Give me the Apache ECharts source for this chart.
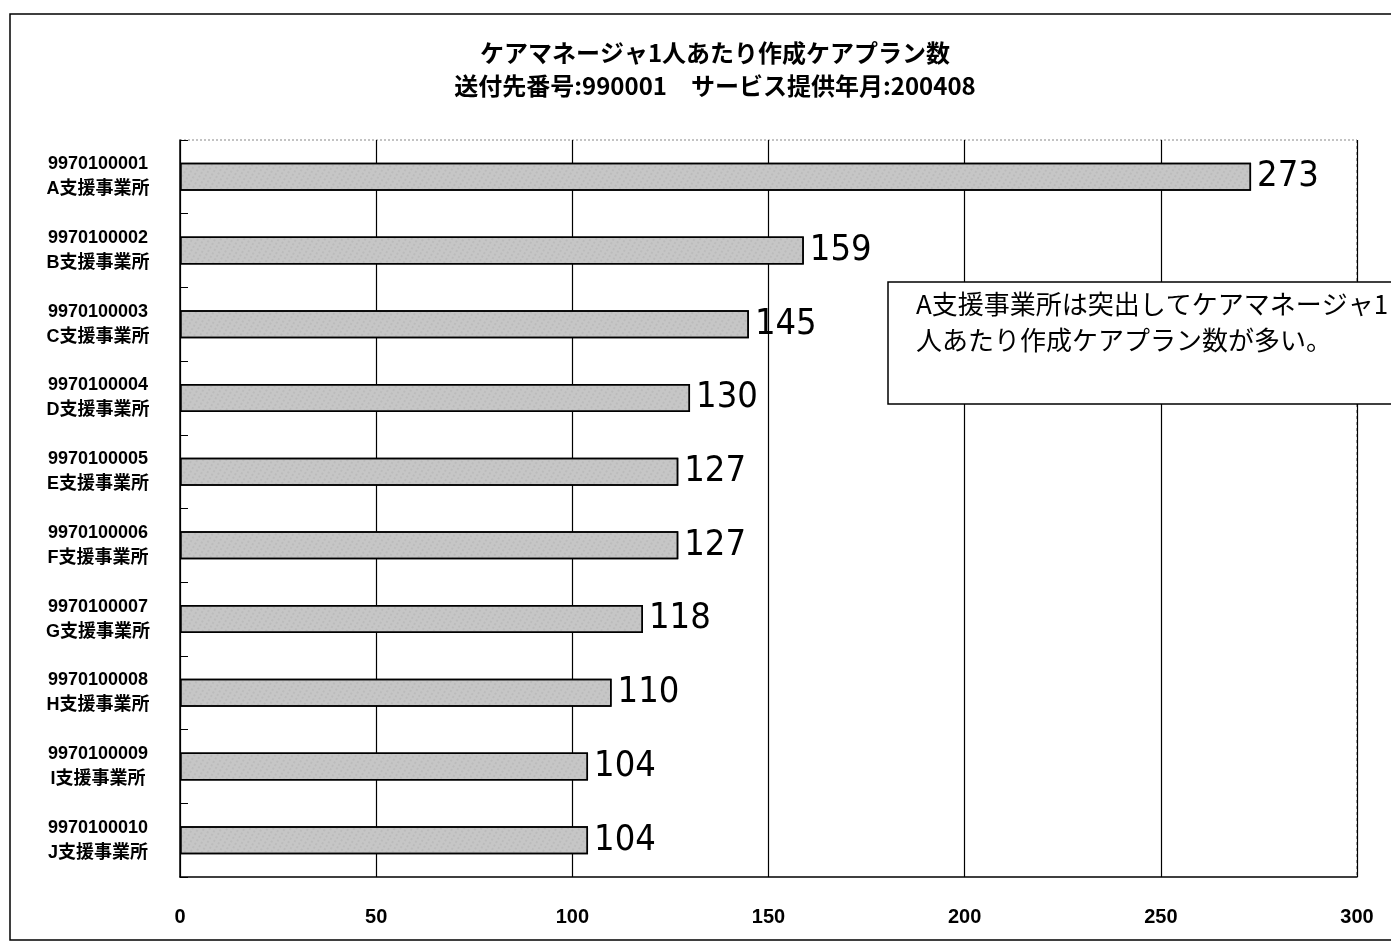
<!DOCTYPE html>
<html><head><meta charset="utf-8">
<script src="https://cdn.jsdelivr.net/npm/echarts@6/dist/echarts.min.js"></script>
<style>html,body{margin:0;padding:0;background:#fff}#c{width:1391px;height:948px}</style>
</head><body><div id="c"></div>
<script>
const codes = ['9970100001','9970100002','9970100003','9970100004','9970100005','9970100006','9970100007','9970100008','9970100009','9970100010'];
const names = ['A支援事業所','B支援事業所','C支援事業所','D支援事業所','E支援事業所','F支援事業所','G支援事業所','H支援事業所','I支援事業所','J支援事業所'];
const values = [273,159,145,130,127,127,118,110,104,104];
const xTicks = [0,50,100,150,200,250,300];
const titleText = 'ケアマネージャ1人あたり作成ケアプラン数';
const subText = '送付先番号:990001　サービス提供年月:200408';
const noteLines = ['A支援事業所は突出してケアマネージャ1','人あたり作成ケアプラン数が多い。'];

const categories = codes.map((c,i)=>c+'\n'+names[i]);
const chart = echarts.init(document.getElementById('c'));
chart.setOption({
  backgroundColor:'#fff',
  animation:false,
  title:{text:titleText, subtext:subText, left:710, textAlign:'center', top:36, itemGap:9,
    textStyle:{fontFamily:'Noto Sans CJK JP', fontSize:24, fontWeight:'bold', color:'#000'},
    subtextStyle:{fontFamily:'Noto Sans CJK JP', fontSize:24, fontWeight:'bold', color:'#000'}},
  grid:{left:180, right:34, top:140, bottom:71},
  xAxis:{type:'value', min:0, max:300, interval:50,
    axisLine:{show:true, lineStyle:{color:'#000', width:1.5}},
    axisTick:{show:false},
    axisLabel:{margin:30, fontFamily:'Liberation Sans', fontSize:20, fontWeight:'bold', color:'#000',
      formatter:v=>xTicks.includes(v)?String(v):''},
    splitLine:{show:true, lineStyle:{color:'#000', width:1.2}}},
  yAxis:{type:'category', data:categories, inverse:true,
    axisLine:{show:true, lineStyle:{color:'#000', width:1.5}},
    axisTick:{show:true, inside:true, length:8, lineStyle:{color:'#000'}},
    axisLabel:{margin:82, fontFamily:'Liberation Sans, Noto Sans CJK JP', fontSize:18, fontWeight:'bold', color:'#000', lineHeight:25, align:'center',
      formatter:v=>v}},
  series:[{type:'bar', data:values, barWidth:28,
    itemStyle:{color:'#c6c6c6', borderColor:'#000', borderWidth:1.5,
      decal:{symbol:'rect', symbolSize:0.6, dashArrayX:[2,3], dashArrayY:[2,2], color:'rgba(110,110,110,0.4)'}},
    label:{show:true, position:'right', distance:6, fontFamily:'Liberation Sans Narrow, DejaVu Sans Condensed, Liberation Sans', fontSize:36, color:'#000'}
  }],
  aria:{enabled:true, decal:{show:true}},
  graphic:[
    {type:'rect', z:-1, shape:{x:10, y:14, width:1400, height:926}, style:{fill:'none', stroke:'#000', lineWidth:1.5}},
    {type:'line', shape:{x1:180, y1:140, x2:1357, y2:140}, style:{stroke:'#888', lineWidth:1, lineDash:[2,2]}},
    {type:'line', shape:{x1:1357, y1:140, x2:1357, y2:877}, style:{stroke:'#fff', lineWidth:3}},
    {type:'line', shape:{x1:1357, y1:140, x2:1357, y2:877}, style:{stroke:'#555', lineWidth:1, lineDash:[3,3]}},
    {type:'rect', z:10, shape:{x:888, y:282, width:520, height:122}, style:{fill:'#fff', stroke:'#000', lineWidth:1.5}},
    {type:'text', z:11, left:916, top:286, style:{text:noteLines.join('\n'), fontFamily:'Noto Sans CJK JP', fontSize:26, lineHeight:36, fill:'#000'}}
  ]
});
</script></body></html>
